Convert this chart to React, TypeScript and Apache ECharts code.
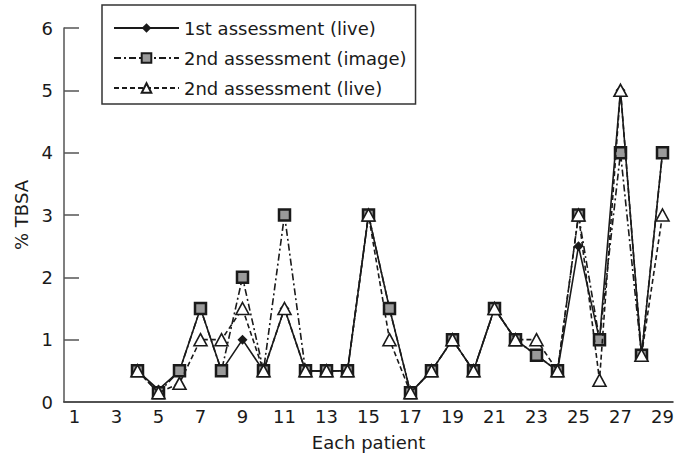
import React, { useEffect, useRef } from "react";
import * as echarts from "echarts";

const patients = ["1","2","3","4","5","6","7","8","9","10","11","12","13","14","15","16","17","18","19","20","21","22","23","24","25","26","27","28","29"];
const firstLive = [null,null,null,0.5,0.2,0.5,1.5,0.5,1.0,0.5,1.5,0.5,0.5,0.5,3.0,1.5,0.15,0.5,1.0,0.5,1.5,1.0,0.75,0.5,2.5,1.0,5.0,0.75,4.0];
const secondImage = [null,null,null,0.5,0.15,0.5,1.5,0.5,2.0,0.5,3.0,0.5,0.5,0.5,3.0,1.5,0.15,0.5,1.0,0.5,1.5,1.0,0.75,0.5,3.0,1.0,4.0,0.75,4.0];
const secondLive = [null,null,null,0.5,0.15,0.3,1.0,1.0,1.5,0.5,1.5,0.5,0.5,0.5,3.0,1.0,0.15,0.5,1.0,0.5,1.5,1.0,1.0,0.5,3.0,0.35,5.0,0.75,3.0];
const seriesNames = ["1st assessment (live)", "2nd assessment (image)", "2nd assessment (live)"];

const FONT = "DejaVu Sans";
const INK = "#1a1a1a";
const AXIS = "#555";

export default function App() {
  const ref = useRef<HTMLDivElement>(null);
  useEffect(() => {
    if (!ref.current) return;
    const chart = echarts.init(ref.current, null, { renderer: "svg" });
    chart.setOption({
      animation: false,
      backgroundColor: "#fff",
      textStyle: { fontFamily: FONT },
      grid: { left: 64, right: 11, top: 28, bottom: 58 },
      legend: {
        orient: "vertical",
        left: 102,
        top: 5,
        padding: [14, 9, 7, 11],
        itemGap: 12,
        itemWidth: 65,
        itemHeight: 12,
        borderColor: "#333",
        borderWidth: 1.5,
        textStyle: { fontFamily: FONT, fontSize: 18, color: INK },
        data: seriesNames,
      },
      xAxis: {
        type: "category",
        data: patients,
        boundaryGap: true,
        name: "Each patient",
        nameLocation: "middle",
        nameGap: 31,
        nameTextStyle: { fontFamily: FONT, fontSize: 18, color: INK },
        axisLine: { lineStyle: { color: INK, width: 1.5 } },
        axisTick: { inside: true, length: 14, interval: 0, lineStyle: { color: AXIS, width: 1.5 } },
        axisLabel: { interval: 1, fontFamily: FONT, fontSize: 18, color: INK, margin: 5 },
        splitLine: { show: false },
      },
      yAxis: {
        type: "value",
        min: 0,
        max: 6,
        interval: 1,
        name: "% TBSA",
        nameLocation: "middle",
        nameGap: 33,
        nameTextStyle: { fontFamily: FONT, fontSize: 18, color: INK },
        axisLine: { show: true, lineStyle: { color: AXIS, width: 1.5 } },
        axisTick: { show: true, inside: true, length: 15, lineStyle: { color: AXIS, width: 1.5 } },
        axisLabel: { fontFamily: FONT, fontSize: 18, color: INK, margin: 11 },
        splitLine: { show: false },
      },
      series: [
        {
          name: seriesNames[0],
          type: "line",
          data: firstLive,
          symbol: "diamond",
          symbolSize: 10,
          showAllSymbol: true,
          lineStyle: { color: INK, width: 1.6, type: "solid" },
          itemStyle: { color: INK, borderColor: INK, borderWidth: 0 },
          z: 2,
        },
        {
          name: seriesNames[1],
          type: "line",
          data: secondImage,
          symbol: "rect",
          symbolSize: 11,
          showAllSymbol: true,
          lineStyle: { color: INK, width: 1.6, type: [7, 3, 2, 3] },
          itemStyle: { color: "#9a9a9a", borderColor: INK, borderWidth: 2.5 },
          z: 3,
        },
        {
          name: seriesNames[2],
          type: "line",
          data: secondLive,
          symbol: "triangle",
          symbolSize: [13, 12],
          showAllSymbol: true,
          lineStyle: { color: INK, width: 1.6, type: [5, 3] },
          itemStyle: { color: "#fff", borderColor: INK, borderWidth: 1.6 },
          z: 4,
        },
      ],
    });
    return () => chart.dispose();
  }, []);
  return <div ref={ref} style={{ width: 684, height: 460, position: "absolute", left: 0, top: 0 }} />;
}
